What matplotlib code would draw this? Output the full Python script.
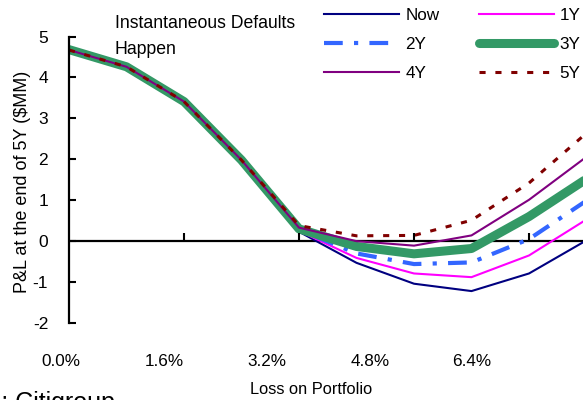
import numpy as np
import matplotlib
matplotlib.use('Agg')
import matplotlib.pyplot as plt
import matplotlib.transforms as mtransforms

# Loss on portfolio (categories) and P&L at end of 5Y ($MM)
loss = [0.0, 0.8, 1.6, 2.4, 3.2, 4.0, 4.8, 5.6, 6.4, 7.2]
pl_now = [4.67, 4.26, 3.41, 1.98, 0.23, -0.53, -1.04, -1.22, -0.79, 0.02]
pl_1y = [4.67, 4.26, 3.41, 1.98, 0.25, -0.41, -0.79, -0.88, -0.35, 0.53]
pl_2y = [4.67, 4.26, 3.41, 1.98, 0.28, -0.30, -0.56, -0.52, 0.05, 0.99]
pl_3y = [4.68, 4.26, 3.41, 1.98, 0.30, -0.13, -0.31, -0.18, 0.60, 1.52]
pl_4y = [4.67, 4.26, 3.41, 1.98, 0.33, 0.00, -0.11, 0.14, 1.01, 2.06]
pl_5y = [4.67, 4.26, 3.41, 1.98, 0.38, 0.13, 0.14, 0.51, 1.42, 2.64]

xlabels = ['0.0%', '1.6%', '3.2%', '4.8%', '6.4%']
yticks = [-2, -1, 0, 1, 2, 3, 4, 5]

plt.rcParams['font.family'] = ['Liberation Sans', 'DejaVu Sans']
plt.rcParams['axes.unicode_minus'] = False

W, H = 583, 400
fig = plt.figure(figsize=(W / 100, H / 100), dpi=100)
ax = fig.add_axes([69 / W, 1 - 323 / H, (W - 69) / W, (323 - 36.5) / H])

x = np.arange(len(loss))
l_now, = ax.plot(x, pl_now, color='#000080', lw=1.5, label='Now')
l_1y, = ax.plot(x, pl_1y, color='#FF00FF', lw=1.5, label='1Y')
l_2y, = ax.plot(x, pl_2y, color='#3366FF', lw=3, dashes=(4.5, 2.7, 1, 2.7), label='2Y')
l_3y, = ax.plot(x, pl_3y, color='#339966', lw=6.5, solid_capstyle='round', label='3Y')
l_4y, = ax.plot(x, pl_4y, color='#800080', lw=1.5, label='4Y')
l_5y, = ax.plot(x, pl_5y, color='#800000', lw=2.2, dashes=(2, 3.2), label='5Y')

ax.set_xlim(0, (W - 69) / 57.5)
ax.set_ylim(-2, 5)

# axis crosses at zero, ticks every other category
ax.axhline(0, color='black', lw=1.6, zorder=1)
ax.vlines(np.arange(2, len(loss), 2), 0, 0.2, color='black', lw=1.5)

for s in ['top', 'right', 'bottom']:
    ax.spines[s].set_visible(False)
ax.spines['left'].set_linewidth(1.6)
ax.set_xticks([])
ax.set_yticks(yticks)
ax.tick_params(axis='y', direction='in', length=5, width=1.5, pad=15, labelsize=12.5)

# category labels (low position)
trans = mtransforms.blended_transform_factory(ax.transData, fig.transFigure)
label_pos = (np.array([61, 164, 267, 370, 472]) - 69) / 57.5
for p, t in zip(label_pos, xlabels):
    ax.text(p, 1 - 361.5 / H, t, transform=trans, ha='center', va='center',
            fontsize=12.3, clip_on=False)

fig.text(311 / W, 1 - 390 / H, 'Loss on Portfolio', ha='center', va='center', fontsize=11.8)
fig.text(22.5 / W, 1 - 182 / H, 'P&L at the end of 5Y ($MM)', rotation=90,
         ha='center', va='center', fontsize=13)
fig.text(115 / W, 1 - 23 / H, 'Instantaneous Defaults', ha='left', va='center', fontsize=12.7)
fig.text(115 / W, 1 - 50 / H, 'Happen', ha='left', va='center', fontsize=12.7)
fig.text(115 / W, 1 - 391 / H, 'Source: Citigroup', ha='right', va='top', fontsize=18)

handles = [l_now, l_2y, l_4y, l_1y, l_3y, l_5y]
fig.legend(handles=handles, loc='upper left', bbox_to_anchor=(324 / W, 1 - 8 / H), ncol=2,
           frameon=False, fontsize=12.3, handlelength=4.4, handletextpad=0.35,
           columnspacing=2.3, labelspacing=0.82, borderpad=0, borderaxespad=0)

fig.savefig('out.png', dpi=100)
